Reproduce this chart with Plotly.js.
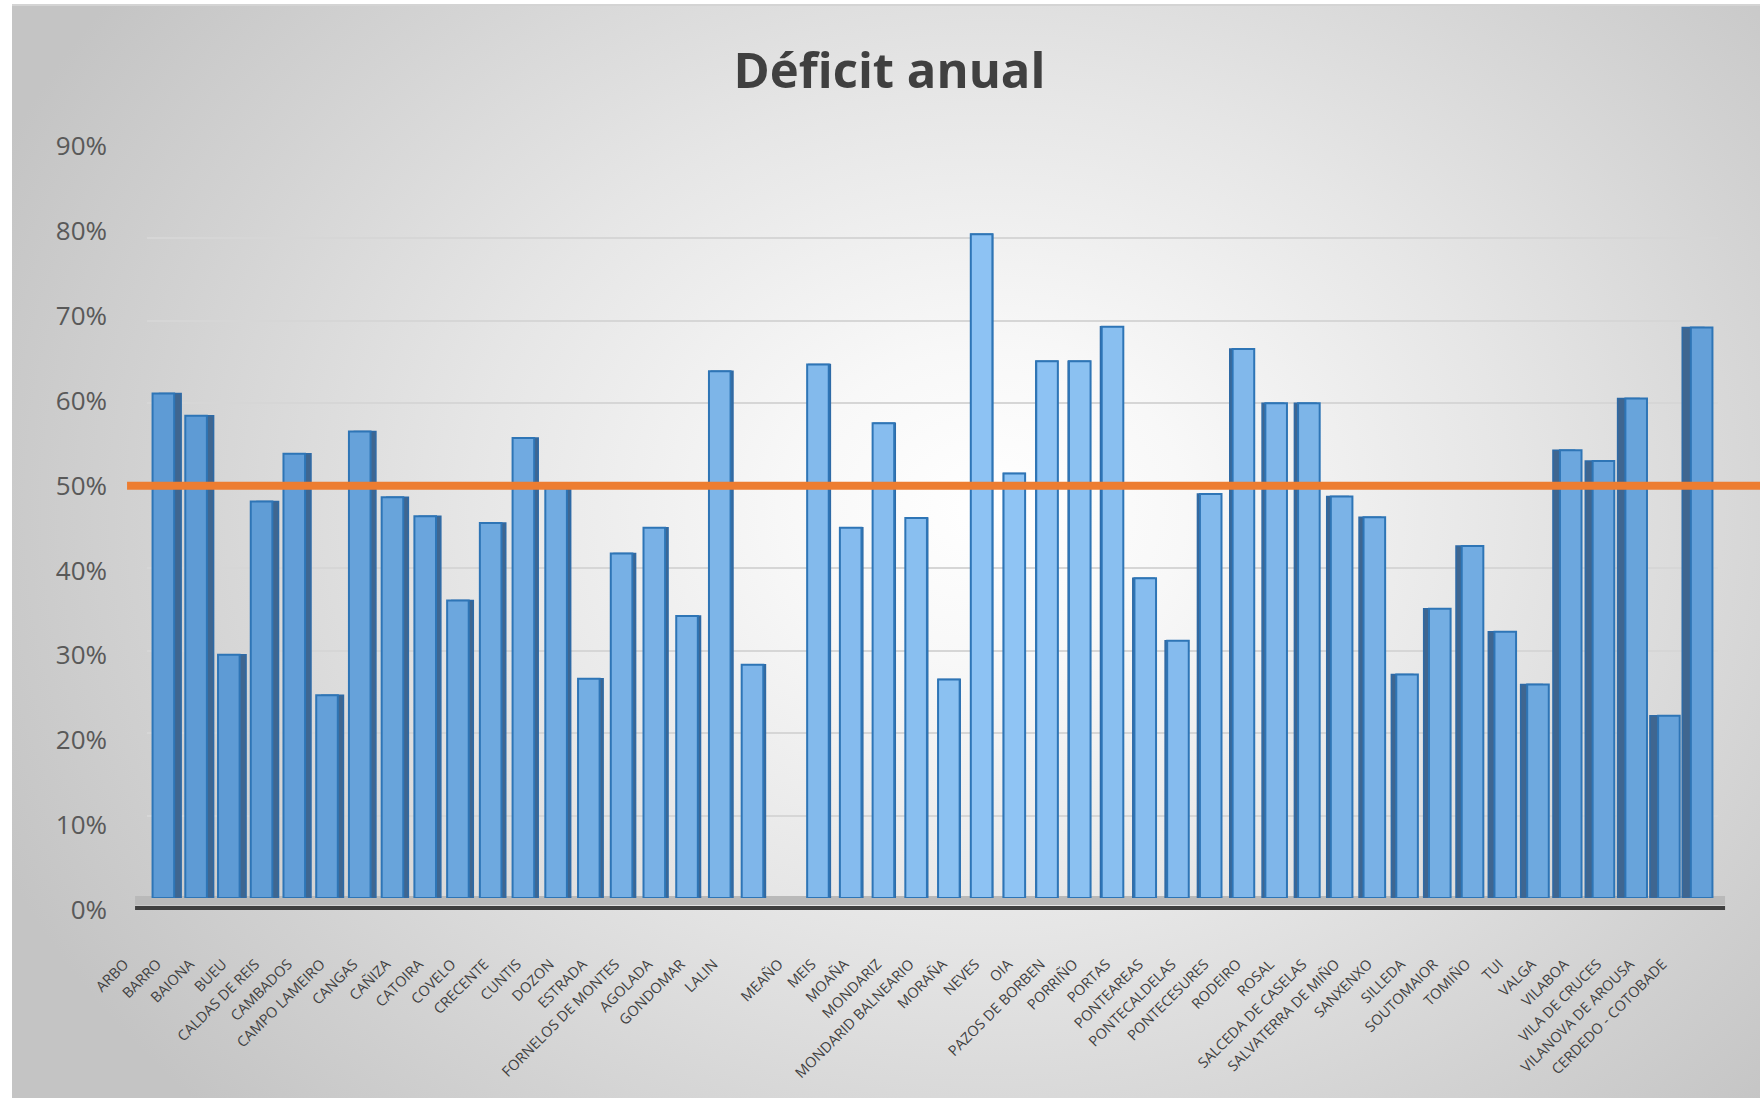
<!DOCTYPE html>
<html>
<head>
<meta charset="utf-8">
<script src="https://cdn.plot.ly/plotly-3.0.1.min.js"></script>
<style>
  html, body { margin: 0; padding: 0; width: 1760px; height: 1098px; background: #ffffff; overflow: hidden; }
  #bg { position: absolute; left: 12px; top: 4px; right: 0; bottom: 0;
        border-top: 2px solid #d4d4d4;
        background: radial-gradient(ellipse 62% 80% at 56% 46%, #ffffff 0%, #f8f8f8 18%, #e6e6e6 48%, #d2d2d2 78%, #c4c4c4 100%); }
  #chart { position: absolute; left: 0; top: 0; width: 1760px; height: 1098px; }
</style>
</head>
<body>
<div id="bg"></div>
<div id="chart"></div>
<script>
// ---- data ----
const municipios = [
  "ARBO", "BARRO", "BAIONA", "BUEU", "CALDAS DE REIS", "CAMBADOS", "CAMPO LAMEIRO",
  "CANGAS", "CAÑIZA", "CATOIRA", "COVELO", "CRECENTE", "CUNTIS", "DOZON", "ESTRADA",
  "FORNELOS DE MONTES", "AGOLADA", "GONDOMAR", "LALIN", " ", "MEAÑO", "MEIS", "MOAÑA",
  "MONDARIZ", "MONDARID BALNEARIO", "MORAÑA", "NEVES", "OIA", "PAZOS DE BORBEN",
  "PORRIÑO", "PORTAS", "PONTEAREAS", "PONTECALDELAS", "PONTECESURES", "RODEIRO",
  "ROSAL", "SALCEDA DE CASELAS", "SALVATERRA DE MIÑO", "SANXENXO", "SILLEDA",
  "SOUTOMAIOR", "TOMIÑO", "TUI", "VALGA", "VILABOA", "VILA DE CRUCES",
  "VILANOVA DE AROUSA", "CERDEDO - COTOBADE"
];
const deficit = [
  0.612, 0.585, 0.295, 0.481, 0.539, 0.246, 0.566,
  0.486, 0.463, 0.361, 0.455, 0.558, 0.497, 0.266, 0.418,
  0.449, 0.342, 0.639, 0.283, null, 0.647, 0.449, 0.576,
  0.461, 0.265, 0.805, 0.515, 0.651, 0.651,
  0.693, 0.388, 0.312, 0.490, 0.666, 0.600,
  0.600, 0.487, 0.462, 0.271, 0.351,
  0.427, 0.323, 0.259, 0.543, 0.530, 0.606,
  0.221, 0.692
];
const umbral = [0.5];
const yTicks = [0, 0.1, 0.2, 0.3, 0.4, 0.5, 0.6, 0.7, 0.8, 0.9];

// ---- styling helpers (derived from index only, no data) ----
const n = municipios.length;
const centerIdx = 26;
function lerp(a, b, t) { return Math.round(a + (b - a) * t); }
const frontColors = municipios.map((_, i) => {
  const t = Math.min(1, Math.abs(i - centerIdx) / 24);
  const light = [143, 196, 244], edge = [94, 155, 213];
  return `rgb(${lerp(light[0], edge[0], t)},${lerp(light[1], edge[1], t)},${lerp(light[2], edge[2], t)})`;
});
const barW = 0.66;
const sideOffsets = municipios.map((_, i) => {
  const k = i < centerIdx ? 0.0082 : 0.0125;
  return -barW / 2 + (centerIdx - i) * k;
});

const side = {
  type: 'bar', x: municipios, y: deficit,
  width: barW, offset: sideOffsets,
  marker: { color: '#3f6690', line: { color: '#2e6aa6', width: 1.5 } },
  hoverinfo: 'skip', showlegend: false
};
const front = {
  type: 'bar', x: municipios, y: deficit,
  width: barW, offset: -barW / 2,
  marker: { color: frontColors, line: { color: '#2e75b6', width: 2 } },
  showlegend: false, name: 'Déficit'
};
// carrier for the front-plane percentage labels (no points drawn)
const labelAxis = {
  type: 'scatter', mode: 'markers', x: [municipios[0]], y: [null],
  xaxis: 'x', yaxis: 'y2', showlegend: false, hoverinfo: 'skip'
};

const font = "'Open Sans', 'Noto Sans', sans-serif";

const layout = {
  width: 1760, height: 1098,
  paper_bgcolor: 'rgba(0,0,0,0)', plot_bgcolor: 'rgba(0,0,0,0)',
  margin: { l: 147, r: 42, t: 140, b: 180 },
  barmode: 'overlay',
  title: {
    text: '<b>Déficit anual</b>',
    font: { family: font, size: 49, color: '#404040' },
    x: 0.5054, xanchor: 'center', y: 0.9353, yanchor: 'middle'
  },
  xaxis: {
    type: 'category', categoryorder: 'array', categoryarray: municipios,
    range: [-0.5, n - 0.5],
    tickangle: -45,
    tickfont: { family: font, size: 14.5, color: '#404040' },
    showgrid: false, zeroline: false, showline: false, ticks: '',
    ticklabelstandoff: 54, ticklabelshift: -39
  },
  yaxis: {
    domain: [0.0257, 0.9794],
    range: [0, 0.9], tickvals: yTicks, showticklabels: false,
    showgrid: true, gridcolor: '#d6d6d6', gridwidth: 2,
    zeroline: false, showline: false, ticks: ''
  },
  yaxis2: {
    domain: [0, 1], anchor: 'free', position: 0, overlaying: false,
    range: [-0.00942, 0.9071], tickvals: yTicks, tickformat: '.0%',
    tickfont: { family: font, size: 26, color: '#595959' },
    showgrid: false, zeroline: false, showline: false, ticks: '',
    ticklabelstandoff: 40
  },
  shapes: [
    { type: 'rect', layer: 'below', xref: 'paper', yref: 'paper',
      x0: -0.0076, x1: 1.0045, y0: 0.0167, y1: 0.0283,
      fillcolor: '#b9b9b9', line: { width: 0 } },
    { type: 'line', layer: 'below', xref: 'paper', yref: 'paper',
      x0: -0.0076, x1: 1.0045, y0: 0.0128, y1: 0.0128,
      line: { color: '#3f3f3f', width: 4 } },
    { type: 'line', layer: 'above', xref: 'paper', yref: 'y',
      x0: -0.0127, x1: 1.03, y0: umbral[0], y1: umbral[0],
      line: { color: '#ed7d31', width: 8 } }
  ]
};

Plotly.newPlot('chart', [side, front, labelAxis], layout, { displayModeBar: false, staticPlot: true });
</script>
</body>
</html>
